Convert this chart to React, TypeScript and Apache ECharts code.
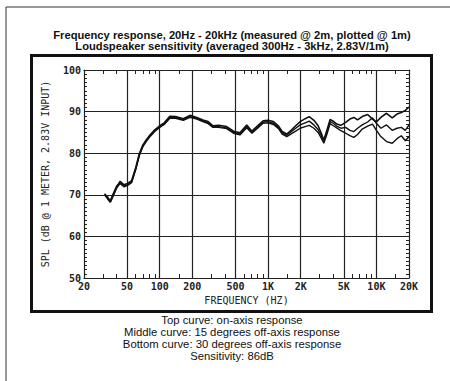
import React, { useEffect, useRef } from "react";
import * as echarts from "echarts";

const freqs = [31,33,35,37,40,43,47,51,55,60,65,70,75,82,90,100,110,124,140,165,190,220,250,280,310,350,415,480,550,635,710,800,900,1000,1120,1250,1350,1490,1650,1800,1980,2200,2400,2650,2900,3100,3270,3500,3740,4000,4300,4700,5200,5700,6200,6700,7400,8300,9200,10000,11000,12400,14000,15500,17000,18500,20000];

const onAxis = [70.1,69.5,68.3,69.8,71.8, 73.2,72.4,72.8,73.4,76.5, 80.0,82.0,83.2,84.5,85.6, 86.6,87.3,88.9,88.8,88.3, 89.1,88.6,88.0,87.6,86.6, 86.7,86.4,85.3,84.9,86.8, 85.3,86.6,87.8,87.9,87.6, 86.5,85.2,84.6,85.6,86.6, 87.6,88.3,88.8,87.9,86.6, 84.8,83.1,85.6,88.1,87.7, 87.0,86.7,87.4,88.2,88.6, 88.0,88.8,89.3,88.2,87.5, 88.6,89.6,88.5,89.4,89.8, 90.3,91.1];

const off15 = [70.3,69.2,68.6,70.1,72.1, 72.9,72.1,72.5,73.1,76.2, 79.7,81.8,83.0,84.3,85.4, 86.4,87.1,88.6,88.6,88.1, 88.8,88.4,87.8,87.3,86.4, 86.4,86.1,85.0,84.6,86.4, 85.0,86.3,87.5,87.6,87.2, 86.2,84.9,84.3,85.2,86.0, 86.8,87.3,87.7,86.8,85.7, 84.2,82.8,85.2,87.6,87.2, 86.5,86.0,86.2,85.5,85.2, 86.0,86.8,87.5,88.5,87.2, 86.0,86.8,85.5,86.0,86.2, 85.5,86.8];

const off30 = [70.0,69.0,68.2,69.6,71.6, 72.7,71.9,72.3,72.9,76.0, 79.5,81.6,82.8,84.1,85.2, 86.2,86.9,88.4,88.4,87.9, 88.6,88.2,87.6,87.1,86.2, 86.2,85.9,84.8,84.4,86.1, 84.8,86.0,87.2,87.3,86.9, 85.9,84.6,84.0,84.7,85.3, 86.0,86.4,86.7,86.0,85.0, 83.6,82.4,84.6,87.1,86.6, 86.1,85.4,84.8,84.2,83.8, 84.5,85.8,86.5,87.0,85.5, 84.0,82.8,82.4,83.5,84.2, 83.0,84.0];

const xLabelFreqs = [20,50,100,200,500,1000,2000,5000,10000,20000];
const xLabelTexts = ["20","50","100","200","500","1K","2K","5K","10K","20K"];
const gridFreqs = [50,100,200,500,1000,2000,5000,10000];
const minorFreqs = [30,40,60,70,80,90,150,300,400,600,700,800,900,1500,3000,4000,6000,7000,8000,9000,15000];

const titleLines = [
  "Frequency response, 20Hz - 20kHz (measured @ 2m, plotted @ 1m)",
  "Loudspeaker sensitivity (averaged 300Hz - 3kHz, 2.83V/1m)",
];
const noteLines = [
  "Top curve: on-axis response",
  "Middle curve: 15 degrees off-axis response",
  "Bottom curve: 30 degrees off-axis response",
  "Sensitivity: 86dB",
];

const lg = (f: number) => Math.log10(f);
const MONO = "DejaVu Sans Mono";

export default function App() {
  const ref = useRef<HTMLDivElement>(null);
  useEffect(() => {
    if (!ref.current) return;
    const chart = echarts.init(ref.current, null, { renderer: "svg" });
    const xMin = lg(20);
    const xMax = lg(20000);
    const labelMap: Record<string, string> = {};
    xLabelFreqs.forEach((f, i) => (labelMap[lg(f).toFixed(4)] = xLabelTexts[i]));
    const tickVals = [...minorFreqs].map(lg);
    const mkSeries = (vals: number[], w: number) => ({
      type: "line",
      data: freqs.map((f, i) => [lg(f), vals[i]]),
      showSymbol: false,
      symbol: "none",
      lineStyle: { color: "#111", width: w },
      xAxisIndex: 0,
      yAxisIndex: 0,
      silent: true,
    });
    const axisTxt = { fontFamily: MONO, fontWeight: "bold" as const, fontSize: 10, color: "#222" };
    chart.setOption({
      animation: false,
      backgroundColor: "#fff",
      grid: { left: 84, top: 70, width: 325, height: 208 },
      xAxis: [
        {
          type: "value", position: "bottom", min: xMin, max: xMax,
          axisLine: { show: true, lineStyle: { color: "#222", width: 1.2 } },
          axisTick: { show: true, inside: true, length: 4, customValues: tickVals, lineStyle: { color: "#222" } },
          axisLabel: {
            show: true, margin: 3, customValues: xLabelFreqs.map(lg), ...axisTxt,
            formatter: (v: number) => labelMap[v.toFixed(4)] ?? "",
          },
          splitLine: { show: false },
          name: "FREQUENCY (HZ)", nameLocation: "middle", nameGap: 17,
          nameTextStyle: { fontFamily: MONO, fontSize: 10, color: "#222" },
        },
        {
          type: "value", position: "top", min: xMin, max: xMax,
          axisLine: { show: true, lineStyle: { color: "#222", width: 1.2 } },
          axisTick: { show: true, inside: true, length: 4, customValues: tickVals, lineStyle: { color: "#222" } },
          axisLabel: { show: false },
          splitLine: { show: false },
        },
        {
          type: "value", position: "bottom", min: xMin, max: xMax,
          axisLine: { show: false },
          axisTick: { show: false, customValues: gridFreqs.map(lg) },
          axisLabel: { show: false },
          splitLine: { show: true, lineStyle: { color: "#222", width: 1.2 } },
        },
      ],
      yAxis: [
        {
          type: "value", position: "left", min: 50, max: 100, interval: 10,
          axisLine: { show: true, lineStyle: { color: "#222", width: 1.2 } },
          axisTick: { show: true, inside: true, length: 5, lineStyle: { color: "#222" } },
          minorTick: { show: true, splitNumber: 10, length: 3, lineStyle: { color: "#222" } },
          axisLabel: { show: true, margin: 3, ...axisTxt },
          splitLine: { show: true, lineStyle: { color: "#222", width: 1.2 } },
          name: "SPL (dB @ 1 METER, 2.83V INPUT)", nameLocation: "middle", nameGap: 34,
          nameTextStyle: { fontFamily: MONO, fontSize: 10, color: "#222" },
        },
        {
          type: "value", position: "right", min: 50, max: 100, interval: 10,
          axisLine: { show: true, lineStyle: { color: "#222", width: 1.2 } },
          axisTick: { show: true, inside: true, length: 5, lineStyle: { color: "#222" } },
          minorTick: { show: true, splitNumber: 10, length: 3, lineStyle: { color: "#222" } },
          axisLabel: { show: false },
          splitLine: { show: false },
        },
      ],
      series: [mkSeries(off30, 1.4), mkSeries(off15, 1.4), mkSeries(onAxis, 1.6)],
      graphic: [
        { type: "line", shape: { x1: 6, y1: 7, x2: 450, y2: 7 }, style: { stroke: "#333", lineWidth: 1 } },
        { type: "line", shape: { x1: 6, y1: 7, x2: 6, y2: 381 }, style: { stroke: "#333", lineWidth: 1 } },
        { type: "rect", shape: { x: 31.5, y: 55.5, width: 400, height: 256 }, style: { fill: "none", stroke: "#111", lineWidth: 3 } },
        ...titleLines.map((t, i) => ({
          type: "text", x: 232, y: 35 + i * 11,
          style: { text: t, textAlign: "center", textVerticalAlign: "middle", font: "bold 11.2px 'Liberation Sans', Arial, sans-serif", fill: "#111" },
        })),
        ...noteLines.map((t, i) => ({
          type: "text", x: 232, y: 320 + i * 12,
          style: { text: t, textAlign: "center", textVerticalAlign: "middle", font: "11.3px 'Liberation Sans', Arial, sans-serif", fill: "#111" },
        })),
      ],
    });
    return () => chart.dispose();
  }, []);
  return <div ref={ref} style={{ position: "fixed", left: 0, top: 0, width: 450, height: 381 }} />;
}
